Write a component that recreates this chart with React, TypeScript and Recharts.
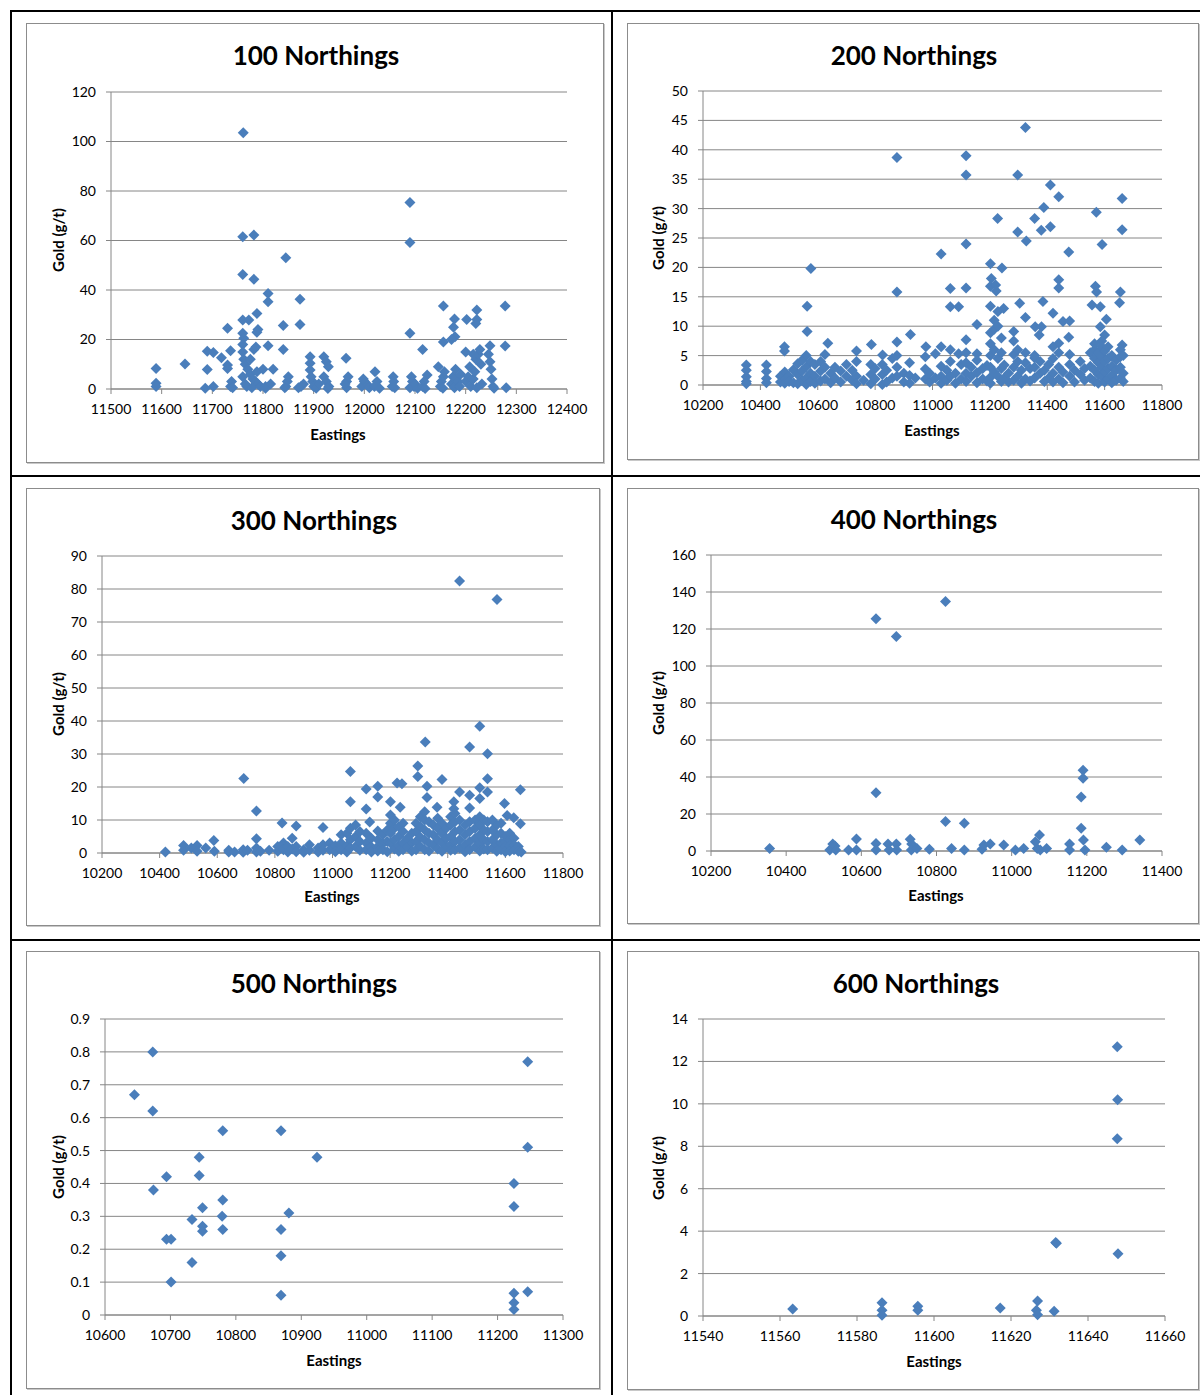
import { ScatterChart, Scatter, XAxis, YAxis, CartesianGrid } from "recharts"

const BLUE = "#4a7ebb"
const GRID = "#868686"
const FONT = "Lato, 'Open Sans', sans-serif"

// gold grades (g/t) against eastings, one list per northing line
const N100: [number, number][] = [
  [11761, 103.5], [12090, 75.4], [12090, 59.2], [11760, 61.5], [11782, 62.2], [11845, 53], [11760, 46.3], [11782, 44.3],
  [11810, 38.6], [11810, 35.3], [11873, 36.3], [11873, 26.1], [11840, 25.7], [11788, 30.5], [11760, 27.9], [11772, 27.9],
  [11790, 24], [11788, 22.9], [11760, 22.5], [11762, 20.5], [11760, 18], [11730, 24.5], [12156, 33.5], [12278, 33.5],
  [12222, 31.9], [12202, 28.1], [12222, 28.1], [12220, 26.5], [12178, 28.3], [12176, 24.9], [12090, 22.5], [12179, 21.1],
  [12172, 20], [12156, 19], [11810, 17.5], [11840, 16], [12115, 16], [12278, 17.4], [12248, 17.5], [11690, 15.3],
  [11702, 14.7], [11736, 15.5], [11718, 12.6], [11730, 9.7], [11730, 8.3], [11589, 8.3], [11646, 10.1], [11690, 7.9],
  [11589, 2.3], [11589, 1], [11686, 0.3], [11702, 1], [11964, 12.4], [11893, 13], [11893, 10.4], [11893, 7.7],
  [11920, 13], [11925, 11], [11929, 9], [12021, 7], [12057, 5], [12124, 5.7], [12093, 5], [12146, 9], [12156, 5],
  [11760, 15], [11762, 12], [11765, 10], [11770, 8], [11775, 6], [11780, 4], [11785, 3], [11790, 2], [11768, 1],
  [11778, 0.5], [11795, 1], [11788, 7], [11782, 16], [11786, 17], [11775, 12], [11760, 5], [11765, 2],
  [11736, 1], [11738, 3], [11740, 0.5], [11800, 8], [11805, 1], [11815, 2], [11820, 8], [11805, 0.3],
  [11845, 1], [11848, 3], [11850, 5], [11843, 0.5], [11875, 1], [11880, 2], [11870, 0.5],
  [11895, 5], [11898, 3], [11900, 1], [11905, 0.3], [11910, 2], [11920, 5], [11925, 3], [11930, 1], [11928, 0.2],
  [11965, 0.5], [11965, 3], [11968, 5], [11962, 2], [11995, 1], [12000, 3], [12005, 2], [12010, 0.5], [11998, 4],
  [12020, 1], [12025, 3], [12030, 0.3], [12055, 1], [12058, 3], [12060, 0.5],
  [12090, 0.5], [12095, 3], [12098, 1], [12100, 2], [12105, 0.3], [12115, 1], [12118, 3], [12120, 0.2],
  [12150, 1], [12152, 3], [12155, 0.3], [12158, 7], [12172, 2], [12175, 5], [12178, 0.5], [12180, 8], [12185, 3],
  [12188, 1], [12190, 6], [12200, 3], [12205, 5], [12208, 9], [12210, 1], [12215, 4], [12218, 7], [12220, 12],
  [12222, 0.5], [12225, 14], [12228, 16], [12230, 10], [12232, 2], [12245, 14], [12248, 11], [12250, 8], [12252, 4],
  [12254, 1], [12256, 0.3], [12280, 0.5], [12200, 15], [12215, 14],
]

const N200: [number, number][] = [
  [11324, 43.8], [10876, 38.7], [11117, 39], [11117, 35.7], [11297, 35.7], [11411, 34], [11440, 32], [11661, 31.7],
  [11571, 29.4], [11388, 30.2], [11356, 28.3], [11227, 28.3], [11379, 26.3], [11411, 26.9], [11297, 26], [11327, 24.5],
  [11661, 26.4], [11117, 24], [11591, 23.9], [11030, 22.3], [11475, 22.6], [11202, 20.6], [11242, 19.9], [10576, 19.8],
  [11205, 18.1], [11202, 16.8], [11220, 17], [11222, 16], [10876, 15.8], [11062, 16.4], [11117, 16.5], [11440, 17.9],
  [11440, 16.5], [11568, 16.8], [11572, 15.8], [11655, 15.8], [11652, 14], [10563, 13.4], [11062, 13.3], [11091, 13.3],
  [11304, 13.9], [11385, 14.2], [11202, 13.4], [11248, 13], [11556, 13.6], [11585, 13.3], [11420, 12.2], [11324, 11.5],
  [11455, 10.8], [11478, 10.9], [11155, 10.3], [11606, 11.2], [11358, 9.9], [11380, 9.9], [11372, 8.5], [10563, 9.1],
  [11283, 9.1], [11475, 8.1], [11585, 9.9], [11600, 8.5], [10923, 8.6], [10484, 6.5], [10484, 5.8], [10635, 7.1],
  [10787, 6.9], [10876, 7.3], [10977, 6.5], [11030, 6.5], [10735, 5.8], [11440, 7.1], [11661, 6.8], [10826, 5.1],
  [11091, 5.3], [11155, 5.3], [11356, 4.6],
  [10351, 3.4], [10351, 2.5], [10351, 1.4], [10351, 0.6], [10351, 0.2], [10421, 3.4], [10421, 2.3], [10421, 1.1], [10421, 0.4],
  [10470, 1.5], [10470, 0.5], [10485, 2.2], [10485, 1], [10485, 0.3], [10500, 1.5], [10500, 0.6], [10515, 2.6], [10515, 0.4],
  [10530, 1.8], [10530, 3.6], [10530, 0.2], [10545, 2.4], [10545, 4.2], [10545, 0.8], [10560, 3.1], [10560, 5], [10560, 1.2],
  [10560, 0.1], [10575, 2], [10575, 4], [10575, 0.6], [10590, 3.5], [10590, 1.5], [10590, 0.3], [10610, 4], [10610, 2.4],
  [10610, 0.7], [10625, 3], [10625, 1], [10625, 5.2], [10645, 2], [10645, 0.4], [10660, 1.2], [10660, 3], [10680, 2.4],
  [10680, 0.5], [10700, 1.5], [10700, 3.5], [10720, 0.8], [10720, 2.5], [10735, 4], [10735, 1.5], [10735, 0.2], [10760, 0.8],
  [10785, 1.8], [10785, 3.5], [10785, 0.2], [10800, 2.8], [10800, 1], [10825, 3.5], [10825, 1.8], [10825, 0.1], [10840, 2.5],
  [10840, 0.5], [10860, 4.5], [10860, 1.2], [10876, 3], [10876, 1.5], [10876, 5], [10900, 2], [10900, 0.5], [10920, 3.8],
  [10920, 1.6], [10920, 0.3], [10940, 1.2], [10975, 4.8], [10975, 2.7], [10975, 1], [10990, 0.5], [10990, 2], [11010, 1.2],
  [11010, 5.3], [11030, 3.2], [11030, 1.5], [11030, 0.3], [11050, 2.5], [11050, 0.8], [11062, 4], [11062, 1.5], [11062, 6],
  [11080, 2], [11080, 0.3], [11100, 3.5], [11100, 1], [11117, 7.7], [11117, 5.5], [11117, 3.8], [11117, 2], [11117, 0.6],
  [11135, 1.5], [11135, 3], [11155, 4.2], [11155, 2.1], [11155, 0.4], [11175, 2.8], [11175, 1], [11190, 3.3], [11190, 0.7],
  [11202, 8.9], [11202, 7], [11202, 5], [11202, 3], [11202, 1.3], [11202, 0.3], [11215, 11], [11215, 9.5], [11215, 6],
  [11215, 2.2], [11228, 12.5], [11228, 10], [11228, 4.5], [11228, 1.5], [11240, 8], [11240, 5.5], [11240, 2.8], [11240, 0.6],
  [11250, 3.4], [11250, 1.2], [11265, 2], [11265, 0.5], [11283, 7.5], [11283, 5.2], [11283, 3], [11283, 0.8], [11297, 6],
  [11297, 4], [11297, 1.5], [11310, 2.5], [11310, 0.3], [11324, 5.5], [11324, 3.8], [11324, 1], [11340, 2.8], [11340, 0.7],
  [11356, 5], [11356, 3], [11356, 1.2], [11375, 4], [11375, 2], [11390, 2.5], [11390, 0.6], [11405, 3.5], [11405, 1.2],
  [11420, 6.5], [11420, 4.5], [11420, 2], [11420, 0.5], [11440, 5.5], [11440, 3], [11440, 1], [11455, 2.2], [11455, 0.4],
  [11478, 5.2], [11478, 3.5], [11478, 1.5], [11495, 2.5], [11495, 0.5], [11515, 4], [11515, 1.8], [11530, 2.8], [11530, 0.8],
  [11550, 5.5], [11550, 3.2], [11550, 1.2], [11565, 7], [11565, 6], [11565, 4.5], [11565, 2.5], [11565, 0.6], [11578, 5.5],
  [11578, 3.8], [11578, 1.8], [11578, 0.3], [11590, 7.5], [11590, 6.5], [11590, 4.8], [11590, 3], [11590, 1.5], [11600, 5.8],
  [11600, 4], [11600, 2.2], [11600, 0.5], [11612, 6.5], [11612, 4.5], [11612, 2.8], [11612, 1], [11625, 5], [11625, 3.2],
  [11625, 1.6], [11625, 0.4], [11640, 4.2], [11640, 2.5], [11640, 0.8], [11655, 6], [11655, 4.8], [11655, 3], [11655, 1.2],
  [11665, 5], [11665, 2], [11665, 0.6],
]

const N300: [number, number][] = [
  [11441, 82.4], [11571, 76.8], [11511, 38.4], [11322, 33.6], [11476, 32.1], [11538, 30.1], [11296, 26.4], [11296, 23.2],
  [11380, 22.3], [11538, 22.5], [10692, 22.6], [11062, 24.7], [11224, 21.2], [11241, 21], [11328, 20.2], [11157, 20.2],
  [11117, 19.4], [11652, 19.2], [11441, 18.5], [11476, 17.5], [11511, 19.8], [11511, 16.5], [11538, 18.5], [11157, 17],
  [11328, 16.8], [11201, 15.5], [11062, 15.5], [11235, 13.9], [11597, 15], [11363, 13.9], [11421, 15.5], [11421, 13.4],
  [11117, 13.3], [11476, 13.6], [10736, 12.7], [11606, 11.4], [11629, 10.7], [11652, 8.9], [11129, 9.4], [10825, 9.1],
  [10874, 8.2], [10967, 7.7], [11157, 6.7], [10588, 3.8], [10736, 4.3], [10483, 2.3], [10530, 2.3], [10420, 0.3],
  [10483, 0.8], [10510, 1.5], [10530, 0.5], [10560, 1.5], [10590, 0.5], [10640, 0.8], [10640, 0.3], [10660, 0.3],
  [10690, 1], [10690, 0.2], [10705, 0.8], [10736, 1.5], [10736, 0.3], [10750, 0.5], [10780, 0.8], [10810, 0.5], [10810, 2],
  [10830, 3], [10830, 1], [10845, 2], [10845, 0.3], [10860, 4.5], [10860, 1.2], [10874, 2], [10874, 0.4], [10900, 1],
  [10900, 0.2], [10920, 2.5], [10920, 0.8], [10950, 1.5], [10950, 0.3], [10967, 2.5], [10967, 0.8], [10990, 3], [10990, 1],
  [11010, 2.2], [11010, 0.4], [11030, 5.5], [11030, 3], [11030, 1], [11050, 6], [11050, 2.2], [11050, 0.3], [11062, 7.5],
  [11062, 4], [11062, 1.5], [11080, 8.5], [11080, 5], [11080, 2], [11095, 6.5], [11095, 3.5], [11095, 0.8], [11117, 6],
  [11117, 3], [11117, 1], [11135, 4.5], [11135, 1.8], [11135, 0.3], [11157, 4], [11157, 2], [11157, 0.6], [11175, 5.5],
  [11175, 2.8], [11175, 1], [11190, 7], [11190, 3.5], [11190, 0.4], [11201, 11.5], [11201, 9], [11201, 6], [11201, 3],
  [11215, 10], [11215, 7.5], [11215, 4], [11215, 1.2], [11230, 8], [11230, 5], [11230, 2.2], [11230, 0.5], [11245, 9],
  [11245, 6.5], [11245, 3], [11245, 1], [11260, 4.5], [11260, 1.8], [11275, 6], [11275, 3], [11275, 0.6], [11290, 9],
  [11290, 6.5], [11290, 3.5], [11290, 1], [11305, 11], [11305, 8], [11305, 4.8], [11305, 2], [11320, 12.5], [11320, 10],
  [11320, 7], [11320, 4], [11320, 1], [11335, 9.5], [11335, 6], [11335, 3], [11335, 0.6], [11350, 8.5], [11350, 5.5],
  [11350, 2.5], [11365, 10.5], [11365, 7.5], [11365, 4], [11365, 1.2], [11380, 9], [11380, 6], [11380, 3], [11380, 0.5],
  [11395, 7.5], [11395, 4.5], [11395, 2], [11410, 11], [11410, 8.5], [11410, 5], [11410, 2.5], [11410, 0.8], [11425, 12],
  [11425, 9.5], [11425, 6.5], [11425, 3.5], [11425, 1], [11441, 10], [11441, 7], [11441, 4], [11441, 1.5], [11460, 8.5],
  [11460, 5.5], [11460, 2.5], [11460, 0.4], [11476, 9.5], [11476, 6.5], [11476, 3.5], [11476, 1], [11495, 10], [11495, 7.5],
  [11495, 4.5], [11495, 1.8], [11511, 11], [11511, 8.5], [11511, 5.5], [11511, 2.8], [11511, 0.6], [11525, 10], [11525, 7],
  [11525, 4], [11525, 1.2], [11538, 9.5], [11538, 6.5], [11538, 3.5], [11538, 1], [11555, 10], [11555, 7], [11555, 4],
  [11555, 1.5], [11570, 8.5], [11570, 5.5], [11570, 2.5], [11570, 0.5], [11585, 9], [11585, 6], [11585, 3], [11585, 1],
  [11600, 5], [11600, 3.5], [11600, 2], [11600, 0.4], [11615, 6], [11615, 4], [11615, 2.2], [11615, 0.6], [11630, 4.5],
  [11630, 2.5], [11630, 1], [11645, 2], [11645, 0.5], [11655, 0.3],
]

const N400: [number, number][] = [
  [10639, 125.6], [10693, 116], [10824, 134.8], [10639, 31.5], [11190, 43.6], [11190, 39.3], [11185, 29.2], [11185, 12.3],
  [10824, 15.9], [10874, 15], [10356, 1.4], [10516, 0.5], [10524, 3.8], [10530, 2.7], [10532, 0.5], [10566, 0.5],
  [10587, 6.5], [10587, 0.5], [10639, 4.1], [10639, 0.5], [10671, 3.8], [10674, 0.5], [10693, 3.8], [10694, 0.5],
  [10730, 6.3], [10734, 3.8], [10733, 0.5], [10748, 1.4], [10781, 0.9], [10840, 1.4], [10874, 0.5], [10921, 0.9],
  [10926, 3.2], [10943, 3.8], [10979, 3.2], [11010, 0.5], [11032, 1.4], [11063, 5], [11074, 8.6], [11068, 1.4],
  [11076, 0.5], [11093, 1.4], [11154, 3.8], [11154, 0.5], [11191, 5.9], [11195, 0.5], [11252, 2], [11294, 0.5],
  [11341, 5.9],
]

const N500: [number, number][] = [
  [10645, 0.67], [10673, 0.8], [10673, 0.62], [10674, 0.38], [10694, 0.42], [10694, 0.23], [10701, 0.23], [10701, 0.1],
  [10733, 0.29], [10733, 0.16], [10744, 0.48], [10744, 0.424], [10749, 0.326], [10749, 0.27], [10749, 0.255], [10780, 0.56],
  [10780, 0.35], [10779, 0.3], [10780, 0.26], [10869, 0.56], [10869, 0.26], [10869, 0.18], [10869, 0.06], [10881, 0.31],
  [10924, 0.48], [11225, 0.4], [11225, 0.33], [11225, 0.066], [11225, 0.037], [11225, 0.017], [11246, 0.77], [11246, 0.51],
  [11246, 0.071],
]

const N600: [number, number][] = [
  [11563.3, 0.33], [11586.5, 0.63], [11586.5, 0.27], [11586.5, 0.03], [11595.8, 0.46], [11595.8, 0.27], [11617.2, 0.38],
  [11626.9, 0.71], [11626.6, 0.27], [11626.9, 0.06], [11631.6, 3.46], [11631.8, 3.43], [11631.2, 0.22], [11647.6, 12.69],
  [11647.7, 10.19], [11647.6, 8.35], [11647.8, 2.94],
]

const X100_TICKS = [11500, 11600, 11700, 11800, 11900, 12000, 12100, 12200, 12300, 12400]
const Y100_TICKS = [0, 20, 40, 60, 80, 100, 120]
const X200_TICKS = [10200, 10400, 10600, 10800, 11000, 11200, 11400, 11600, 11800]
const Y200_TICKS = [0, 5, 10, 15, 20, 25, 30, 35, 40, 45, 50]
const X300_TICKS = [10200, 10400, 10600, 10800, 11000, 11200, 11400, 11600, 11800]
const Y300_TICKS = [0, 10, 20, 30, 40, 50, 60, 70, 80, 90]
const X400_TICKS = [10200, 10400, 10600, 10800, 11000, 11200, 11400]
const Y400_TICKS = [0, 20, 40, 60, 80, 100, 120, 140, 160]
const X500_TICKS = [10600, 10700, 10800, 10900, 11000, 11100, 11200, 11300]
const Y500_TICKS = [0, 0.1, 0.2, 0.3, 0.4, 0.5, 0.6, 0.7, 0.8, 0.9]
const X600_TICKS = [11540, 11560, 11580, 11600, 11620, 11640, 11660]
const Y600_TICKS = [0, 2, 4, 6, 8, 10, 12, 14]

function Diamond(props: any) {
  const { cx, cy } = props
  if (cx == null || cy == null) return null
  const r = 5.5
  return <path d={`M${cx},${cy - r}L${cx + r},${cy}L${cx},${cy + r}L${cx - r},${cy}Z`} fill={BLUE} />
}

type Box = [number, number, number, number] // left, top, right, bottom

type PanelProps = {
  title: string
  points: [number, number][]
  xTicks: number[]
  yTicks: number[]
  frame: Box
  plot: Box
  titleAt: [number, number]
  yLabelAt: [number, number]
  xLabelAt: [number, number]
}

function Caption({ text, at, size, rotate }: { text: string; at: [number, number]; size: number; rotate?: boolean }) {
  return (
    <div
      style={{
        position: "absolute",
        left: at[0],
        top: at[1],
        transform: `translate(-50%, -50%)${rotate ? " rotate(-90deg)" : ""}`,
        whiteSpace: "nowrap",
        fontFamily: FONT,
        fontWeight: 700,
        fontSize: size,
        lineHeight: 1,
        color: "#000",
      }}
    >
      {text}
    </div>
  )
}

function Panel({ title, points, xTicks, yTicks, frame, plot, titleAt, yLabelAt, xLabelAt }: PanelProps) {
  const rows = points.map(([x, y]) => ({ x, y }))
  const w = frame[2] - frame[0]
  const h = frame[3] - frame[1]
  const tick = { fill: "#000", fontSize: 14, fontFamily: FONT }
  return (
    <>
      <div
        style={{
          position: "absolute",
          left: frame[0],
          top: frame[1],
          width: w,
          height: h,
          boxSizing: "border-box",
          border: "1px solid #8c8c8c",
          boxShadow: "1px 1px 0 #c8c8c8",
        }}
      />
      <div style={{ position: "absolute", left: frame[0], top: frame[1] }}>
        <ScatterChart
          width={w}
          height={h}
          margin={{ top: plot[1] - frame[1], right: frame[2] - plot[2], bottom: 0, left: 0 }}
        >
          <CartesianGrid vertical={false} stroke={GRID} />
          <XAxis
            type="number"
            dataKey="x"
            domain={[xTicks[0], xTicks[xTicks.length - 1]]}
            ticks={xTicks}
            interval={0}
            height={frame[3] - plot[3]}
            tickSize={5}
            tickMargin={10}
            stroke={GRID}
            tick={tick}
          />
          <YAxis
            type="number"
            dataKey="y"
            domain={[yTicks[0], yTicks[yTicks.length - 1]]}
            ticks={yTicks}
            interval={0}
            width={plot[0] - frame[0]}
            tickSize={5}
            tickMargin={10}
            stroke={GRID}
            tick={tick}
          />
          <Scatter data={rows} shape={Diamond} isAnimationActive={false} />
        </ScatterChart>
      </div>
      <Caption text={title} at={titleAt} size={26} />
      <Caption text="Gold (g/t)" at={yLabelAt} size={15} rotate />
      <Caption text="Eastings" at={xLabelAt} size={15} />
    </>
  )
}

function Rule({ x, y, w, h }: { x: number; y: number; w: number; h: number }) {
  return <div style={{ position: "absolute", left: x, top: y, width: w, height: h, background: "#000" }} />
}

export default function App() {
  return (
    <div style={{ position: "absolute", left: 0, top: 0, width: 1200, height: 1395, background: "#fff", overflow: "hidden" }}>
      <Rule x={10} y={10} w={1190} h={2} />
      <Rule x={10} y={10} w={2} h={1385} />
      <Rule x={611} y={10} w={2} h={1385} />
      <Rule x={10} y={475} w={1190} h={2} />
      <Rule x={10} y={939} w={1190} h={2} />

      <Panel
        title="100 Northings"
        points={N100}
        xTicks={X100_TICKS}
        yTicks={Y100_TICKS}
        frame={[26, 23, 604, 463]}
        plot={[111, 92, 567, 389]}
        titleAt={[316, 55]}
        yLabelAt={[58, 240]}
        xLabelAt={[338, 434]}
      />
      <Panel
        title="200 Northings"
        points={N200}
        xTicks={X200_TICKS}
        yTicks={Y200_TICKS}
        frame={[627, 23, 1199, 460]}
        plot={[703, 91, 1162, 385]}
        titleAt={[914, 55]}
        yLabelAt={[658, 238]}
        xLabelAt={[932, 430]}
      />
      <Panel
        title="300 Northings"
        points={N300}
        xTicks={X300_TICKS}
        yTicks={Y300_TICKS}
        frame={[26, 488, 600, 926]}
        plot={[102, 556, 563, 853]}
        titleAt={[314, 520]}
        yLabelAt={[58, 704]}
        xLabelAt={[332, 896]}
      />
      <Panel
        title="400 Northings"
        points={N400}
        xTicks={X400_TICKS}
        yTicks={Y400_TICKS}
        frame={[627, 488, 1199, 924]}
        plot={[711, 555, 1162, 851]}
        titleAt={[914, 519]}
        yLabelAt={[658, 703]}
        xLabelAt={[936, 895]}
      />
      <Panel
        title="500 Northings"
        points={N500}
        xTicks={X500_TICKS}
        yTicks={Y500_TICKS}
        frame={[26, 951, 600, 1389]}
        plot={[105, 1019, 563, 1315]}
        titleAt={[314, 983]}
        yLabelAt={[58, 1167]}
        xLabelAt={[334, 1360]}
      />
      <Panel
        title="600 Northings"
        points={N600}
        xTicks={X600_TICKS}
        yTicks={Y600_TICKS}
        frame={[627, 951, 1199, 1390]}
        plot={[703, 1019, 1165, 1316]}
        titleAt={[916, 983]}
        yLabelAt={[658, 1168]}
        xLabelAt={[934, 1361]}
      />
    </div>
  )
}
